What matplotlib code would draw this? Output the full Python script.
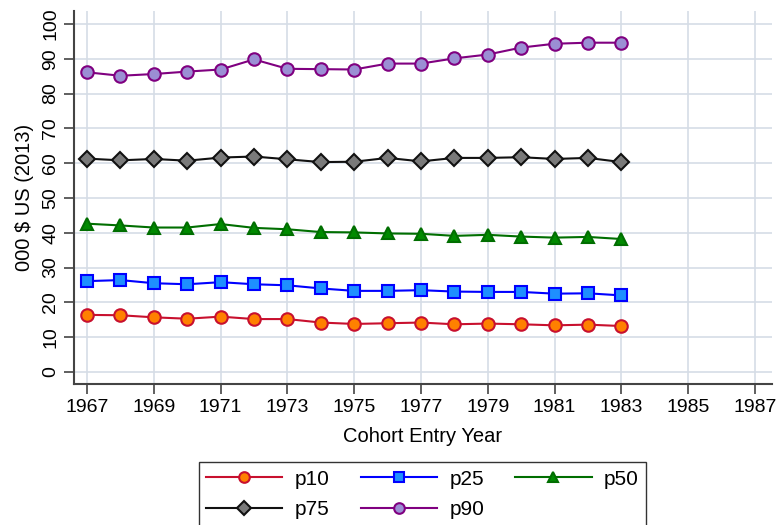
import matplotlib
matplotlib.use("Agg")
import matplotlib.pyplot as plt

plt.rcParams["font.family"] = ["Liberation Sans", "DejaVu Sans"]

years = list(range(1967, 1984))
p10 = [16.4, 16.3, 15.7, 15.3, 15.9, 15.2, 15.2, 14.2, 13.8, 14.0, 14.2, 13.7, 13.9, 13.7, 13.4, 13.6, 13.2]
p25 = [26.1, 26.4, 25.5, 25.2, 25.8, 25.2, 24.9, 24.0, 23.3, 23.3, 23.5, 23.1, 23.0, 23.0, 22.5, 22.6, 22.0]
p50 = [42.6, 42.1, 41.5, 41.5, 42.5, 41.4, 41.0, 40.2, 40.1, 39.8, 39.7, 39.1, 39.4, 38.9, 38.6, 38.8, 38.2]
p75 = [61.3, 60.8, 61.2, 60.7, 61.6, 61.9, 61.1, 60.3, 60.4, 61.5, 60.5, 61.5, 61.5, 61.7, 61.2, 61.5, 60.3]
p90 = [86.1, 85.1, 85.6, 86.3, 86.9, 89.8, 87.1, 87.0, 86.9, 88.6, 88.6, 90.1, 91.2, 93.2, 94.3, 94.6, 94.6]

xticks = list(range(1967, 1988, 2))
yticks = list(range(0, 101, 10))

series = [
    ("p10", p10, "#c8102e", "o", "#ff8000", 9),
    ("p25", p25, "#0000ff", "s", "#1e8fff", 8),
    ("p50", p50, "#006e00", "^", "#008a00", 9),
    ("p75", p75, "#111111", "D", "#7a7a7a", 8.5),
    ("p90", p90, "#800080", "o", "#9b8fd4", 9),
]

fig = plt.figure(figsize=(7.83, 5.25), dpi=100)
ax = fig.add_axes([0.0945, 0.2686, 0.891, 0.7104])

lines = {}
for name, vals, col, mk, face, ms in series:
    ln, = ax.plot(years, vals, color=col, lw=1.5, marker=mk, markersize=ms,
                  markerfacecolor=face, markeredgecolor=col, markeredgewidth=1.5,
                  label=name, zorder=3)
    lines[name] = ln

ax.set_xlim(1966.61, 1987.5)
ax.set_ylim(-3.45, 103.7)
ax.set_xticks(xticks)
ax.set_yticks(yticks)
ax.tick_params(axis="both", labelsize=14, length=7, width=1.2, color="#444444")
for lbl in ax.get_yticklabels():
    lbl.set_rotation(90)
    lbl.set_va("center")
ax.grid(True, color="#d5dde6", lw=1.2, zorder=0)
ax.set_axisbelow(True)
for side in ["top", "right"]:
    ax.spines[side].set_visible(False)
for side in ["left", "bottom"]:
    ax.spines[side].set_color("#444444")
    ax.spines[side].set_linewidth(1.5)

ax.set_xlabel("Cohort Entry Year", fontsize=14.5, labelpad=8)
ax.set_ylabel("000 $ US (2013)", fontsize=14.5, labelpad=6)

# matplotlib fills legend columns first, so reorder to read p10 p25 p50 / p75 p90
order = ["p10", "p75", "p25", "p90", "p50"]
leg = fig.legend([lines[k] for k in order], order,
                 loc="upper center", bbox_to_anchor=(422.5 / 783, 1 - 452 / 525),
                 ncol=3, fontsize=15, handlelength=3.65, handletextpad=0.6,
                 frameon=True, fancybox=False, edgecolor="#333333", framealpha=1,
                 columnspacing=1.5, borderpad=0.35, labelspacing=0.55,
                 markerscale=0.85)
leg.get_frame().set_linewidth(1.0)

fig.savefig("out.png", dpi=100)
